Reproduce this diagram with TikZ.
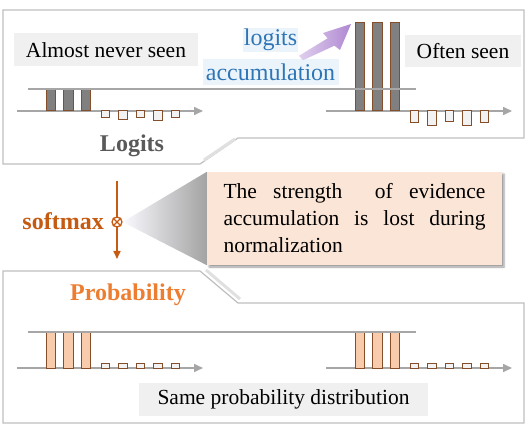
\documentclass[tikz,border=0pt]{standalone}
\usepackage{fontspec}
\setmainfont{Liberation Serif}
\usetikzlibrary{backgrounds}
\usetikzlibrary{arrows.meta}
\usetikzlibrary{calc,shadows.blur,positioning}

\definecolor{barbrown}{RGB}{133,78,42}
\definecolor{peach}{RGB}{248,203,173}
\definecolor{peachlight}{RGB}{251,229,214}
\definecolor{smorange}{RGB}{197,90,17}
\definecolor{proborange}{RGB}{237,125,49}
\definecolor{accblue}{RGB}{46,117,182}
\definecolor{accbg}{RGB}{236,244,251}
\definecolor{purplelight}{RGB}{224,208,238}
\definecolor{purpledark}{RGB}{176,136,210}

\begin{document}
\begin{tikzpicture}[x=1pt, y=-1pt,
			panel/.style={draw=black!25, line width=1.2pt, fill=white},
			fold/.style={draw=black!12, line width=3pt},
			tag/.style={fill=black!6, text=black, inner sep=0pt, font=\fontsize{21.5}{24}\selectfont},
			blabel/.style={fill=accbg, text=accblue, inner sep=0pt, font=\fontsize{24}{28}\selectfont},
			heading/.style={inner sep=0pt, font=\fontsize{24}{28}\selectfont\bfseries},
			thresh/.style={draw=black!35, line width=1.6pt},
			axis/.style={draw=black!35, line width=1.6pt, -{Triangle[length=9pt,width=8pt]}},
			bigbar/.style={draw=barbrown, line width=1pt, fill=black!50},
			smallbar/.style={draw=barbrown, line width=1pt, fill=black!5},
			probbar/.style={draw=barbrown, line width=1pt, fill=peach},
		]
		\useasboundingbox (0,0) rectangle (532,427);

		% panels
		\draw [panel] (3,10) -- (524,10) -- (524,138) -- (238,138) -- (200,164) -- (3,164) -- cycle;
		\draw [fold] (204,160) -- (235,139);
		\draw [panel] (3,271) -- (200,271) -- (238,303) -- (524,303) -- (524,423) -- (3,423) -- cycle;
		\draw [fold] (206,270) -- (240,299);

		% logits
		\node (never) [tag, minimum width=184pt, minimum height=33pt] at (106,50) {Almost never seen};
		\node (often) [tag, minimum width=116pt, minimum height=32pt] at (463,51) {Often seen};
		\node (logw) [blabel, minimum width=55pt, minimum height=24pt] at (270.5,40) {logits};
		\node (accw) [blabel, minimum width=136pt, minimum height=26pt, below=7pt of logw] {accumulation};
		\node (logits) [heading, text=black!65] at (132,146) {Logits};

		\shade [left color=purplelight, right color=purpledark]
			(299,55.8) -- (327.6,38.3) -- (323,33) -- (351,24) -- (340,50) -- (334.4,45.7) -- (303,60.2) -- cycle;

		\coordinate (axA0) at (17,111);
		\coordinate (axA1) at (203,111);
		\coordinate (axB0) at (326,111);
		\coordinate (axB1) at (512,111);
		\draw [axis] (axA0) -- (axA1);
		\draw [axis] (axB0) -- (axB1);

		\foreach \x in {46,63.5,81}
			\draw [bigbar] (\x,89) rectangle ++(9.5,22);
		\foreach \x in {355,372.5,390}
			\draw [bigbar] (\x,23) rectangle ++(9.5,88);
		\foreach \x/\d in {101/7,118.5/9,136/7,153.5/10,171/7}
			\draw [smallbar] (\x,111) rectangle ++(8.5,\d);
		\foreach \x/\d in {410/12,427.5/15,445/11,462.5/15,480/12}
			\draw [smallbar] (\x,111) rectangle ++(8.5,\d);

		\coordinate (thA0) at (28,89);
		\coordinate (thA1) at (416,89);
		\draw [thresh] (thA0) -- (thA1);

		% softmax
		\coordinate (smTop) at (117,181);
		\coordinate (smBot) at (117,259);
		\draw [smorange, line width=1.6pt, -{Triangle[length=8pt,width=7pt]}] (smTop) -- (smBot);
		\node (otimes) [circle, draw=smorange, fill=white, line width=1.3pt, minimum size=10pt, inner sep=0pt] at (117,222) {};
		\draw [smorange, line width=1.1pt] (otimes.north west) -- (otimes.south east) (otimes.north east) -- (otimes.south west);
		\node (softmax) [heading, text=smorange, anchor=east] at (104,221) {softmax};

		\node (note) [fill=peachlight, minimum width=295pt, minimum height=93pt, text width=262pt, align=justify,
			font=\fontsize{21.5}{27}\selectfont, blur shadow={shadow xshift=2pt, shadow yshift=-2pt, shadow blur steps=4}]
			at (354.5,218.5) {The strength\ \ of evidence\linebreak accumulation is lost during\linebreak normalization};

		\begin{scope}[on background layer]
			\shade [left color=blue!2!white, right color=black!36] (otimes.east) -- (note.north west) -- (note.south west) -- cycle;
		\end{scope}

		% probability
		\node (prob) [heading, text=proborange] at (128,295) {Probability};
		\node (same) [tag, minimum width=289pt, minimum height=33pt] at (283.5,399.5) {Same probability distribution};

		\coordinate (axC0) at (17,368);
		\coordinate (axC1) at (203,368);
		\coordinate (axD0) at (326,368);
		\coordinate (axD1) at (512,368);
		\draw [axis] (axC0) -- (axC1);
		\draw [axis] (axD0) -- (axD1);

		\foreach \x in {46,63.5,81,355,372.5,390}
			\draw [probbar] (\x,332) rectangle ++(9.5,36);
		\foreach \x in {101,118.5,136,153.5,171,410,427.5,445,462.5,480}
			\draw [smallbar] (\x,363) rectangle ++(8.5,5);

		\coordinate (thB0) at (28,332);
		\coordinate (thB1) at (416,332);
		\draw [thresh] (thB0) -- (thB1);
	\end{tikzpicture}
\end{document}
